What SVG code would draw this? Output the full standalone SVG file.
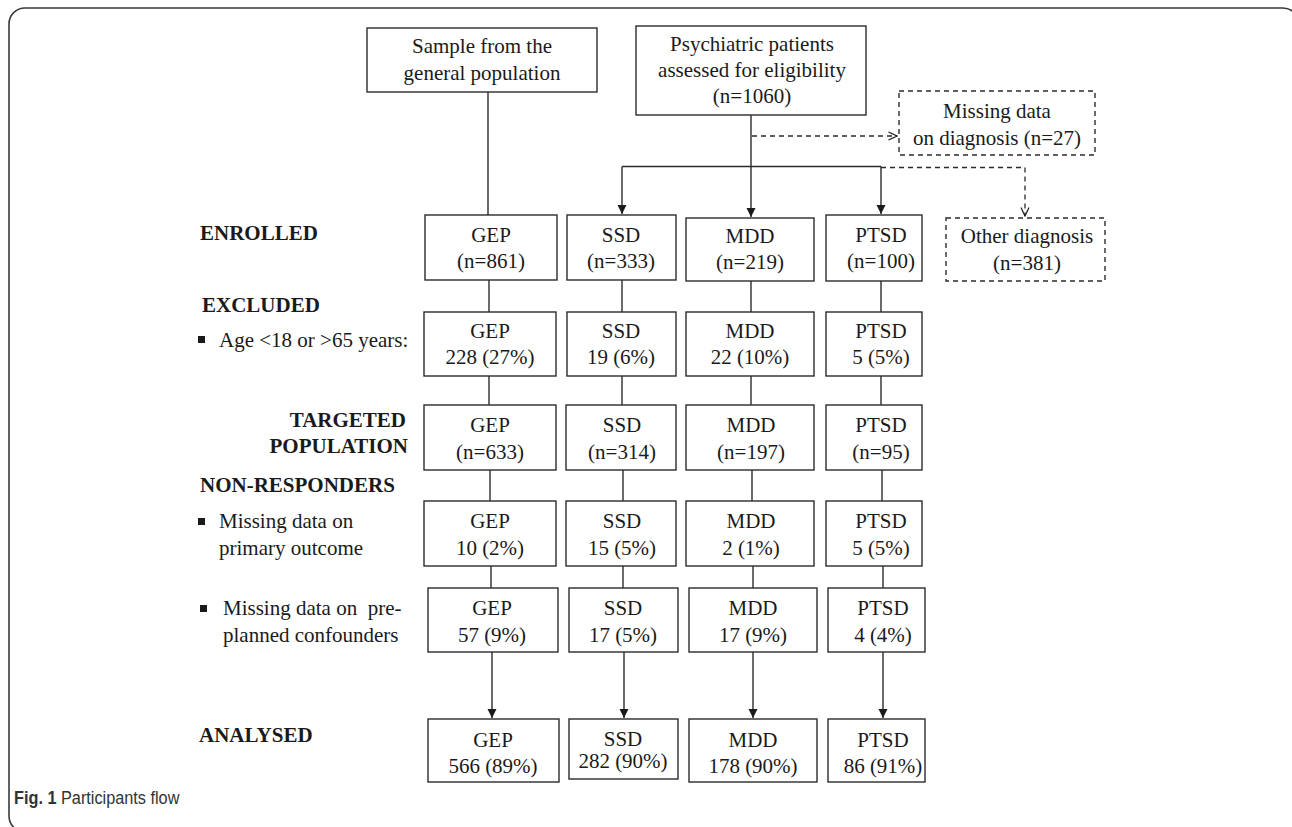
<svg xmlns="http://www.w3.org/2000/svg" width="1292" height="827" viewBox="0 0 1292 827">
<style>
.frame{fill:none;stroke:#3a3a3a;stroke-width:1.6}
.box{fill:#fff;stroke:#2b2b2b;stroke-width:1.4}
.dbox{fill:#fff;stroke:#2b2b2b;stroke-width:1.4;stroke-dasharray:5 4}
.ln{fill:none;stroke:#2b2b2b;stroke-width:1.4}
.dln{fill:none;stroke:#2b2b2b;stroke-width:1.3;stroke-dasharray:5 4}
.t{font-family:"Liberation Serif","Times New Roman",serif;font-size:21px;fill:#1a1a1a;text-anchor:middle}
.lab{font-family:"Liberation Serif","Times New Roman",serif;font-size:21px;fill:#1a1a1a}
.b{font-weight:bold}
.cap{font-family:"Liberation Sans",Arial,sans-serif;font-size:18.5px;fill:#333}
</style>
<defs>
<marker id="ah" markerWidth="10" markerHeight="10" refX="9" refY="5" orient="auto" markerUnits="userSpaceOnUse">
<path d="M0,0.5 L9,5 L0,9.5 Z" fill="#1a1a1a"/>
</marker>
<marker id="oh" markerWidth="10" markerHeight="10" refX="9" refY="5" orient="auto" markerUnits="userSpaceOnUse">
<path d="M0.5,1 L9,5 L0.5,9" fill="none" stroke="#1a1a1a" stroke-width="1.2"/>
</marker>
</defs>
<rect width="1292" height="827" fill="#fff"/>
<rect class="frame" x="9" y="8" width="1290" height="824" rx="16" ry="16"/>

<g id="connectors">
<line class="ln" x1="488" y1="92" x2="488" y2="215"/>
<line class="ln" x1="751" y1="115" x2="751" y2="217" marker-end="url(#ah)"/>
<line class="ln" x1="622" y1="166.5" x2="881" y2="166.5"/>
<line class="ln" x1="622" y1="166.5" x2="622" y2="214" marker-end="url(#ah)"/>
<line class="ln" x1="881" y1="166.5" x2="881" y2="214" marker-end="url(#ah)"/>
<line class="dln" x1="752" y1="136" x2="897" y2="136" marker-end="url(#oh)"/>
<polyline class="dln" points="881,167.5 1025,167.5 1025,216" marker-end="url(#oh)"/>
<line class="ln" x1="489" y1="280" x2="489" y2="312"/>
<line class="ln" x1="622" y1="280" x2="622" y2="312"/>
<line class="ln" x1="751" y1="281" x2="751" y2="312"/>
<line class="ln" x1="881" y1="281" x2="881" y2="312"/>
<line class="ln" x1="489" y1="376" x2="489" y2="405"/>
<line class="ln" x1="622" y1="376" x2="622" y2="405"/>
<line class="ln" x1="751" y1="376" x2="751" y2="405"/>
<line class="ln" x1="881" y1="376" x2="881" y2="405"/>
<line class="ln" x1="490" y1="470" x2="490" y2="501"/>
<line class="ln" x1="623" y1="470" x2="623" y2="501"/>
<line class="ln" x1="752" y1="470" x2="752" y2="501"/>
<line class="ln" x1="882" y1="470" x2="882" y2="501"/>
<line class="ln" x1="491" y1="566" x2="491" y2="588"/>
<line class="ln" x1="623" y1="566" x2="623" y2="588"/>
<line class="ln" x1="753" y1="566" x2="753" y2="588"/>
<line class="ln" x1="883" y1="566" x2="883" y2="588"/>
<line class="ln" x1="492" y1="652" x2="492" y2="718" marker-end="url(#ah)"/>
<line class="ln" x1="624" y1="652" x2="624" y2="718" marker-end="url(#ah)"/>
<line class="ln" x1="753" y1="652" x2="753" y2="718" marker-end="url(#ah)"/>
<line class="ln" x1="883" y1="652" x2="883" y2="718" marker-end="url(#ah)"/>
</g>

<g id="sample">
<rect class="box" x="367" y="28" width="230" height="64"/>
<text class="t" x="482" y="53">Sample from the</text>
<text class="t" x="482" y="80">general population</text>
</g>
<g id="psych">
<rect class="box" x="636" y="26" width="230" height="89"/>
<text class="t" x="752" y="51">Psychiatric patients</text>
<text class="t" x="752" y="77">assessed for eligibility</text>
<text class="t" x="752" y="103">(n=1060)</text>
</g>
<g id="missing-diag">
<rect class="dbox" x="899" y="91" width="196" height="64"/>
<text class="t" x="997" y="118">Missing data</text>
<text class="t" x="997" y="145">on diagnosis (n=27)</text>
</g>

<g id="lbl-enrolled"><text class="lab b" x="200" y="240">ENROLLED</text></g>
<g id="enr-gep"><rect class="box" x="425" y="215" width="132" height="65"/><text class="t" x="491" y="242">GEP</text><text class="t" x="491" y="268">(n=861)</text></g>
<g id="enr-ssd"><rect class="box" x="567" y="215" width="109" height="65"/><text class="t" x="621" y="242">SSD</text><text class="t" x="621" y="268">(n=333)</text></g>
<g id="enr-mdd"><rect class="box" x="686" y="218" width="128" height="63"/><text class="t" x="750" y="243">MDD</text><text class="t" x="750" y="269">(n=219)</text></g>
<g id="enr-ptsd"><rect class="box" x="826" y="215" width="96" height="66"/><text class="t" x="881" y="242">PTSD</text><text class="t" x="881" y="268">(n=100)</text></g>
<g id="enr-other"><rect class="dbox" x="946" y="218" width="159" height="63"/><text class="t" x="1027" y="243">Other diagnosis</text><text class="t" x="1027" y="270">(n=381)</text></g>

<g id="lbl-excluded">
<text class="lab b" x="202" y="312">EXCLUDED</text>
<rect x="198" y="336" width="7" height="7" fill="#1a1a1a"/>
<text class="lab" x="219" y="347">Age &lt;18 or &gt;65 years:</text>
</g>
<g id="exc-gep"><rect class="box" x="424" y="312" width="132" height="64"/><text class="t" x="490" y="338">GEP</text><text class="t" x="490" y="364">228 (27%)</text></g>
<g id="exc-ssd"><rect class="box" x="567" y="312" width="109" height="64"/><text class="t" x="621" y="338">SSD</text><text class="t" x="621" y="364">19 (6%)</text></g>
<g id="exc-mdd"><rect class="box" x="686" y="312" width="128" height="64"/><text class="t" x="750" y="338">MDD</text><text class="t" x="750" y="364">22 (10%)</text></g>
<g id="exc-ptsd"><rect class="box" x="826" y="312" width="96" height="64"/><text class="t" x="881" y="338">PTSD</text><text class="t" x="881" y="364">5 (5%)</text></g>

<g id="lbl-targeted">
<text class="lab b" x="406" y="427" text-anchor="end">TARGETED</text>
<text class="lab b" x="408" y="453" text-anchor="end">POPULATION</text>
</g>
<g id="tar-gep"><rect class="box" x="424" y="405" width="132" height="65"/><text class="t" x="490" y="432">GEP</text><text class="t" x="490" y="459">(n=633)</text></g>
<g id="tar-ssd"><rect class="box" x="566" y="405" width="110" height="65"/><text class="t" x="622" y="432">SSD</text><text class="t" x="622" y="459">(n=314)</text></g>
<g id="tar-mdd"><rect class="box" x="686" y="405" width="128" height="65"/><text class="t" x="751" y="432">MDD</text><text class="t" x="751" y="459">(n=197)</text></g>
<g id="tar-ptsd"><rect class="box" x="826" y="405" width="96" height="65"/><text class="t" x="881" y="432">PTSD</text><text class="t" x="881" y="459">(n=95)</text></g>

<g id="lbl-nonresp">
<text class="lab b" x="200" y="492">NON-RESPONDERS</text>
<rect x="198" y="518" width="7" height="7" fill="#1a1a1a"/>
<text class="lab" x="219" y="528">Missing data on</text>
<text class="lab" x="219" y="555">primary outcome</text>
</g>
<g id="non-gep"><rect class="box" x="424" y="501" width="132" height="65"/><text class="t" x="490" y="528">GEP</text><text class="t" x="490" y="555">10 (2%)</text></g>
<g id="non-ssd"><rect class="box" x="566" y="501" width="110" height="65"/><text class="t" x="622" y="528">SSD</text><text class="t" x="622" y="555">15 (5%)</text></g>
<g id="non-mdd"><rect class="box" x="686" y="501" width="128" height="65"/><text class="t" x="751" y="528">MDD</text><text class="t" x="751" y="555">2 (1%)</text></g>
<g id="non-ptsd"><rect class="box" x="826" y="501" width="96" height="65"/><text class="t" x="881" y="528">PTSD</text><text class="t" x="881" y="555">5 (5%)</text></g>

<g id="lbl-confounders">
<rect x="200" y="605" width="7" height="7" fill="#1a1a1a"/>
<text class="lab" x="223" y="615" xml:space="preserve">Missing data on  pre-</text>
<text class="lab" x="223" y="642">planned confounders</text>
</g>
<g id="con-gep"><rect class="box" x="428" y="588" width="130" height="64"/><text class="t" x="492" y="615">GEP</text><text class="t" x="492" y="642">57 (9%)</text></g>
<g id="con-ssd"><rect class="box" x="569" y="588" width="109" height="64"/><text class="t" x="623" y="615">SSD</text><text class="t" x="623" y="642">17 (5%)</text></g>
<g id="con-mdd"><rect class="box" x="689" y="588" width="128" height="64"/><text class="t" x="753" y="615">MDD</text><text class="t" x="753" y="642">17 (9%)</text></g>
<g id="con-ptsd"><rect class="box" x="828" y="588" width="97" height="64"/><text class="t" x="883" y="615">PTSD</text><text class="t" x="883" y="642">4 (4%)</text></g>

<g id="lbl-analysed"><text class="lab b" x="199" y="742">ANALYSED</text></g>
<g id="ana-gep"><rect class="box" x="428" y="719" width="131" height="63"/><text class="t" x="493" y="747">GEP</text><text class="t" x="493" y="773">566 (89%)</text></g>
<g id="ana-ssd"><rect class="box" x="569" y="719" width="109" height="60"/><text class="t" x="623" y="746">SSD</text><text class="t" x="623" y="768">282 (90%)</text></g>
<g id="ana-mdd"><rect class="box" x="689" y="719" width="128" height="63"/><text class="t" x="753" y="747">MDD</text><text class="t" x="753" y="773">178 (90%)</text></g>
<g id="ana-ptsd"><rect class="box" x="828" y="719" width="97" height="63"/><text class="t" x="883" y="747">PTSD</text><text class="t" x="883" y="773">86 (91%)</text></g>

<g id="caption" transform="translate(14,804) scale(0.88,1)">
<text class="cap" x="0" y="0"><tspan font-weight="bold">Fig. 1</tspan> Participants flow</text>
</g>
</svg>
